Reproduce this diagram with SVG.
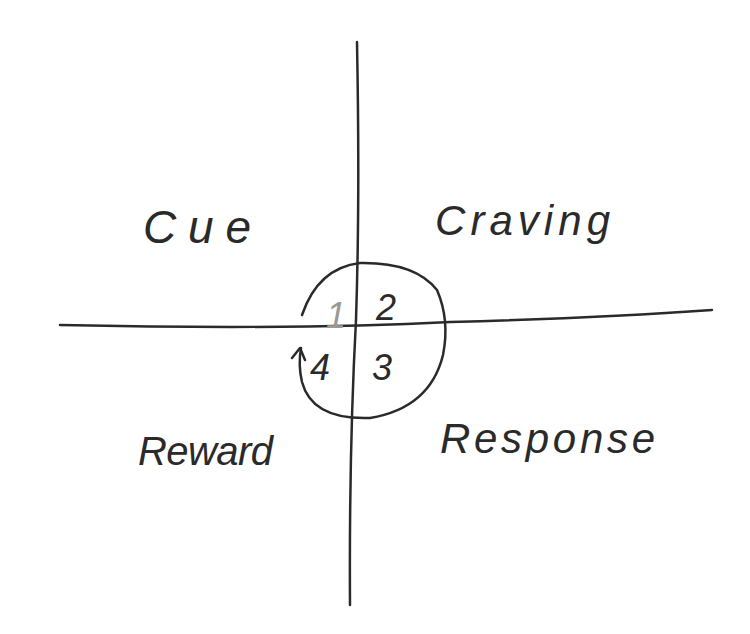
<svg xmlns="http://www.w3.org/2000/svg" width="750" height="634" viewBox="0 0 750 634">
<style>
.s{fill:none;stroke:#2a2a2a;stroke-width:2.5;stroke-linecap:round;stroke-linejoin:round}
.t{font-family:"Liberation Sans",sans-serif;fill:#2a2a2a;font-style:italic}
</style>
<rect width="750" height="634" fill="#fff"/>
<g id="connectors">
<path class="s" d="M357,42 Q360,200 356,320 Q349,450 350,605"/>
<path class="s" d="M60,325 Q300,330 450,322 Q600,318 712,310"/>
<path class="s" d="M302,315 Q318,268 360,263 Q415,262 437,290 Q450,320 443,355 Q430,408 370,418 Q312,420 302,382 Q298,365 301,348"/>
<path class="s" d="M292,358 L300,348 L305,360"/>
</g>
<g id="n1"><text class="t" x="326" y="328" font-size="36" style="fill:#999">1</text></g>
<g id="n2"><text class="t" x="376" y="320" font-size="36">2</text></g>
<g id="n3"><text class="t" x="372" y="380" font-size="36">3</text></g>
<g id="n4"><text class="t" x="310" y="380" font-size="36">4</text></g>
<g id="cue"><text class="t" x="143" y="243" font-size="46" textLength="108">Cue</text></g>
<g id="craving"><text class="t" x="435" y="235" font-size="42" textLength="175">Craving</text></g>
<g id="reward"><text class="t" x="138" y="465" font-size="40" textLength="135">Reward</text></g>
<g id="response"><text class="t" x="440" y="453" font-size="42" textLength="215">Response</text></g>
</svg>
